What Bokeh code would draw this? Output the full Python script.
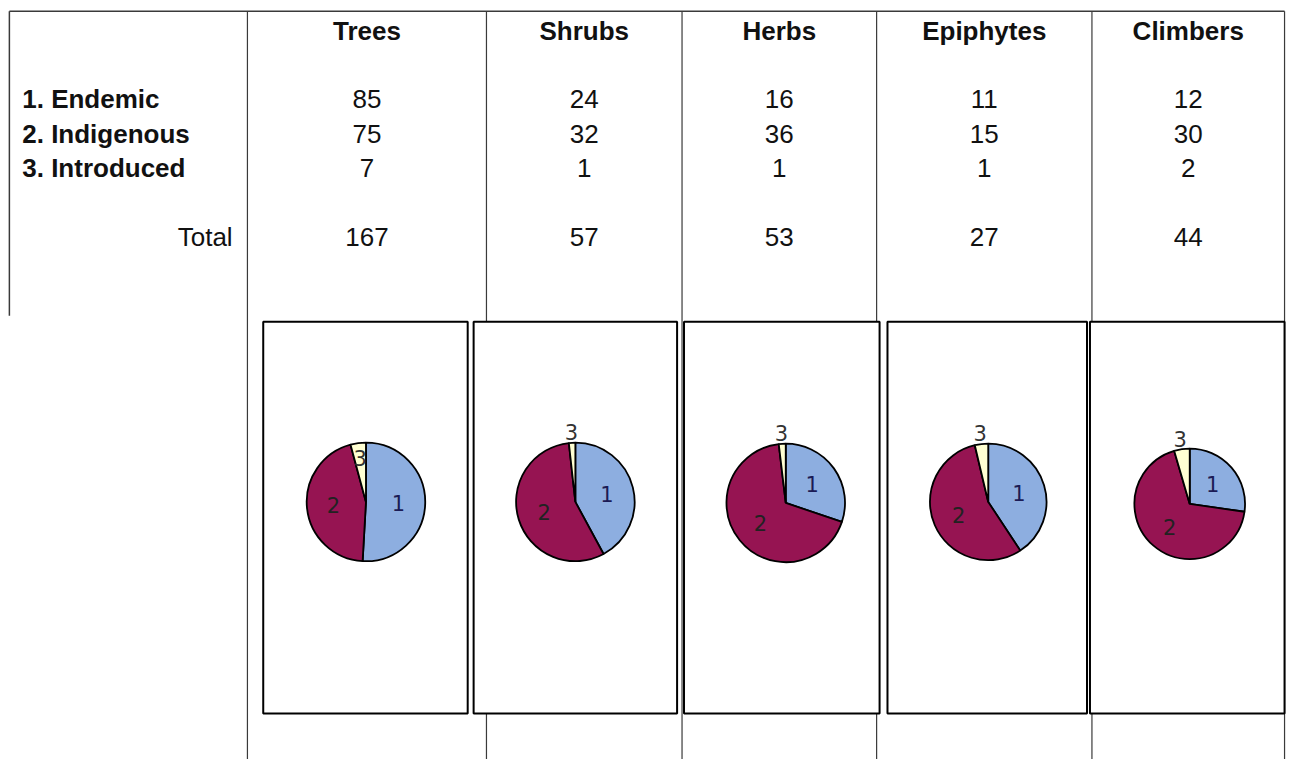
import math
from bokeh.plotting import figure
from bokeh.models import Range1d
from bokeh.core.properties import value
from bokeh.embed import file_html
from bokeh.resources import INLINE

# ---- data ----
categories = ["Trees", "Shrubs", "Herbs", "Epiphytes", "Climbers"]
endemic = [85, 24, 16, 11, 12]
indigenous = [75, 32, 36, 15, 30]
introduced = [7, 1, 1, 1, 2]
totals = [167, 57, 53, 27, 44]
row_labels = ["1. Endemic", "2. Indigenous", "3. Introduced"]
total_label = "Total"
slice_labels = ["1", "2", "3"]

# ---- layout (reference pixel coordinates, 1304 x 775) ----
W, H = 1288, 759
RW, RH = 1304, 775
def Y(sy):
    return RH - sy

p = figure(width=W, height=H, x_range=Range1d(0, RW), y_range=Range1d(0, RH),
           output_backend="svg", toolbar_location=None, min_border=0,
           x_axis_type=None, y_axis_type=None)
p.grid.visible = False
p.outline_line_color = None
p.background_fill_color = "white"
p.border_fill_color = "white"

FONT = value("Liberation Sans")
FS = "26px"
col_edges = [250, 492, 690, 887, 1105, 1300]
col_centers = [(col_edges[i] + col_edges[i + 1]) / 2 for i in range(5)]

# table lines
line_col = "#3a3a3a"
p.segment(x0=[9, 9], y0=[Y(11), Y(11)], x1=[1300, 9], y1=[Y(11), Y(322)],
          line_color=line_col, line_width=1.5)
p.segment(x0=col_edges, y0=[Y(11)] * 6, x1=col_edges, y1=[Y(775)] * 6,
          line_color=line_col, line_width=1.2)

# headers
p.text(x=col_centers, y=[Y(31)] * 5, text=categories, text_font=FONT,
       text_font_style="bold", text_font_size=FS, text_align="center",
       text_baseline="middle", text_color="#111111")

# row labels
row_y = [Y(101), Y(136), Y(171)]
p.text(x=[22] * 3, y=row_y, text=row_labels, text_font=FONT, text_font_style="bold",
       text_font_size=FS, text_align="left", text_baseline="middle",
       text_color="#111111")
p.text(x=[235], y=[Y(241)], text=[total_label], text_font=FONT,
       text_font_size=FS, text_align="right", text_baseline="middle",
       text_color="#111111")

# values
series = [endemic, indigenous, introduced]
for vals, yy in zip(series, row_y):
    p.text(x=col_centers, y=[yy] * 5, text=[str(v) for v in vals], text_font=FONT,
           text_font_size=FS, text_align="center", text_baseline="middle",
           text_color="#111111")
p.text(x=col_centers, y=[Y(241)] * 5, text=[str(v) for v in totals], text_font=FONT,
       text_font_size=FS, text_align="center", text_baseline="middle",
       text_color="#111111")

# pie boxes
box_left = [266, 479, 692, 898, 1103]
box_right = [473, 685, 890, 1100, 1300]
p.quad(left=box_left, right=box_right, top=[Y(328)] * 5, bottom=[Y(728)] * 5,
       fill_color="white", line_color="black", line_width=2)

# pies
pie_cx = [370, 582, 795, 1000, 1204]
pie_cy = [Y(512), Y(512), Y(513), Y(512), Y(514)]
pie_r = [60, 60, 60, 59, 56]
label3_outside = [False, True, True, True, True]
colors = ["#8DAEE0", "#961452", "#FFFFD2"]
label_colors = ["#1b1b55", "#222222", "#333333"]

for i in range(5):
    vals = [endemic[i], indigenous[i], introduced[i]]
    tot = sum(vals)
    cum = 0.0
    for k, v in enumerate(vals):
        a0 = math.pi / 2 - 2 * math.pi * cum / tot
        a1 = math.pi / 2 - 2 * math.pi * (cum + v) / tot
        p.wedge(x=[pie_cx[i]], y=[pie_cy[i]], radius=pie_r[i], start_angle=a0,
                end_angle=a1, direction="clock", fill_color=colors[k],
                line_color="black", line_width=1.8)
        mid = (a0 + a1) / 2
        if k < 2:
            rr = 0.55 * pie_r[i]
        elif not label3_outside[i]:
            rr = 0.75 * pie_r[i]
        else:
            rr = 1.2 * pie_r[i]
        lx = pie_cx[i] + rr * math.cos(mid)
        ly = pie_cy[i] + rr * math.sin(mid)
        p.text(x=[lx], y=[ly], text=[slice_labels[k]], text_font=value("DejaVu Sans"),
               text_font_size="21px", text_align="center", text_baseline="middle",
               text_color=label_colors[k])
        cum += v

open("out.html", "w").write(file_html(p, INLINE))
